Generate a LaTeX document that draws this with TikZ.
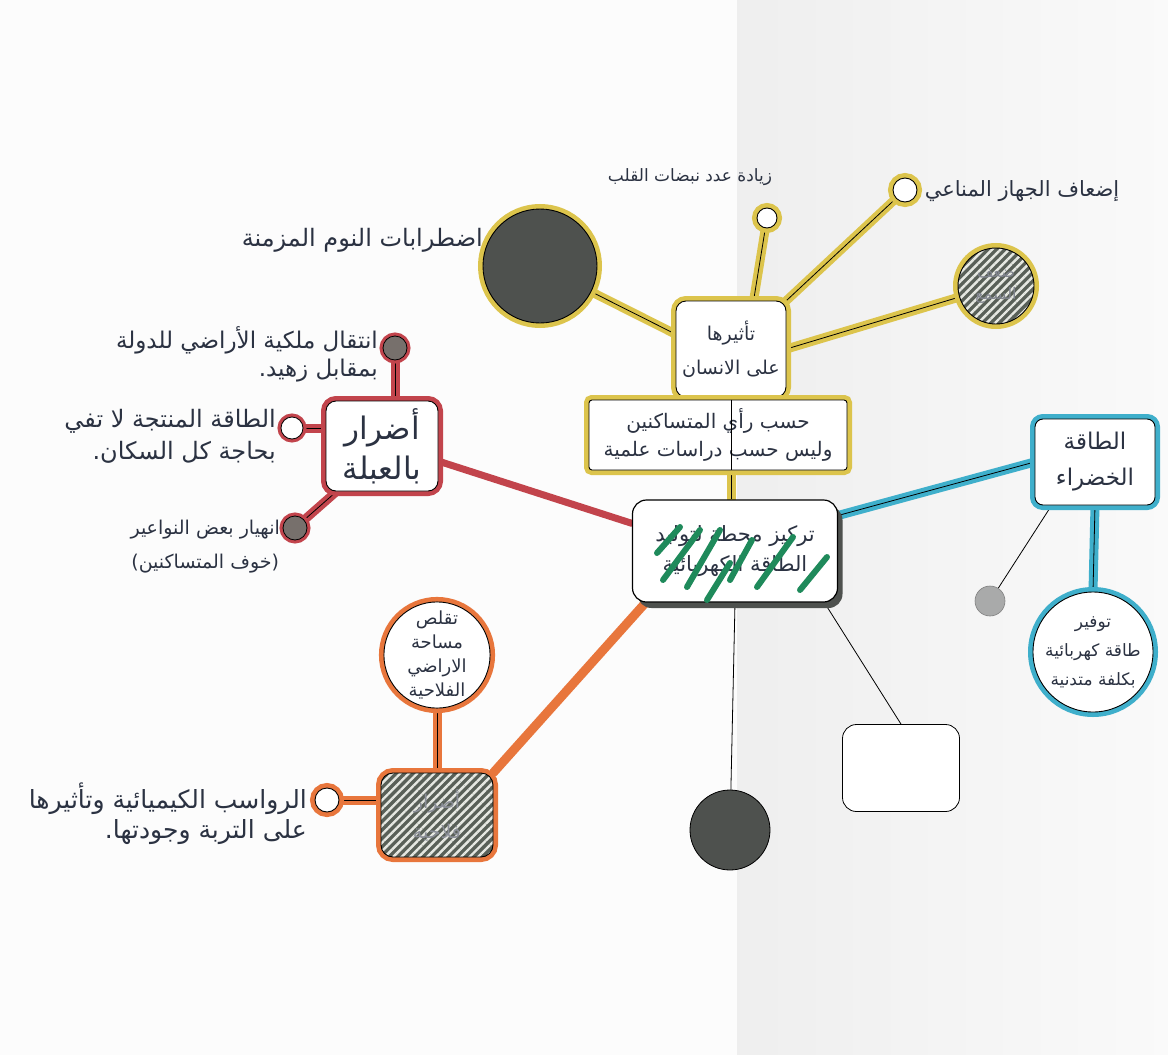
\documentclass[tikz,border=0pt]{standalone}
\usepackage{fontspec}
\newfontfamily\arabicfont[Script=Arabic]{DejaVu Sans}
\newfontfamily\latinfont{DejaVu Sans}
\TeXXeTstate=1
\usetikzlibrary{patterns.meta,shadows}
\pgfdeclarelayer{back}
\pgfdeclarelayer{bg}
\pgfsetlayers{back,bg,main}
\definecolor{ylw}{HTML}{DCC44C}
\definecolor{rd}{HTML}{C2444C}
\definecolor{org}{HTML}{E8763C}
\definecolor{blu}{HTML}{3FAFCB}
\definecolor{dk}{HTML}{4E514E}
\definecolor{ink}{HTML}{2B3242}
\definecolor{grn}{HTML}{1F8A5B}
\definecolor{hg}{HTML}{596058}
\definecolor{hw}{HTML}{E6E8E2}
\definecolor{rg}{HTML}{77706C}
\definecolor{lg}{HTML}{A9AAAA}
\newcommand{\artxt}[1]{\beginR #1\endR}
\begin{document}
\begin{tikzpicture}[x=1pt,y=-1pt,
  band/.style={draw=black, line width=0.9pt, preaction={draw=#1, line width=10pt}},
  thinband/.style={draw=black, line width=0.8pt, preaction={draw=#1, line width=7pt}},
  conn/.style={draw=black, line width=0.8pt, preaction={draw=#1, line width=9pt, line cap=round}},
  plainconn/.style={draw=#1, line width=7pt, line cap=round},
  txt/.style={text=ink, inner sep=2pt},
  fs/.style 2 args={font=\arabicfont\fontsize{#1}{#2}\selectfont},
  hatch/.style={preaction={fill=hg}, preaction={pattern={Lines[angle=45,distance=6pt,line width=2.4pt]}, pattern color=hw}},
  greenstroke/.style={draw=grn, line width=6pt, line cap=round}
]
\useasboundingbox (0,0) rectangle (1168,1055);
\begin{pgfonlayer}{back}
  \fill[white!98!gray] (0,0) rectangle (1168,1055);
  \shade[left color=gray!13, right color=gray!4] (737,0) rectangle (1168,1055);
\end{pgfonlayer}

% ---------- yellow group ----------
\node[circle, minimum size=114pt, band=ylw, fill=dk] (bigc) at (540,266) {};
\node[circle, minimum size=20pt, band=ylw, fill=white] (s1) at (767,218) {};
\node[circle, minimum size=24pt, band=ylw, fill=white] (s2) at (905,190) {};
\node[circle, minimum size=76pt, band=ylw, hatch, txt, fs={16}{22}, text=ink!60, align=center] (hc) at (996,286) {\artxt{ضعف}\\\artxt{السمع}};
\node[rounded corners=10pt, minimum width=110pt, minimum height=96pt, band=ylw, fill=white, txt, fs={19}{34}, align=center] (eff) at (731,349) {\artxt{تأثيرها}\\\artxt{على الانسان}};
\node[rounded corners=3pt, minimum width=258pt, minimum height=70pt, band=ylw, fill=white, txt, fs={20}{28}, align=center] (info) at (718,435) {\artxt{حسب رأي المتساكنين}\\\artxt{وليس حسب دراسات علمية}};

\node[txt, fs={24}{30}, anchor=east] (tsleep) at (485,240) {\artxt{اضطرابات النوم المزمنة}};
\node[txt, fs={17}{22}] (theart) at (690,177) {\artxt{زيادة عدد نبضات القلب}};
\node[txt, fs={21}{26}] (timmune) at (1022,191) {\artxt{إضعاف الجهاز المناعي}};

% ---------- centre ----------
\node[rounded corners=14pt, minimum width=205pt, minimum height=102pt, draw=black, line width=1.2pt, fill=white,
  drop shadow={shadow xshift=5pt, shadow yshift=-6pt, fill=dk, opacity=1}, txt, fs={21}{30}, align=center] (c) at (735,551)
  {\artxt{تركيز محطة لتوليد}\\\artxt{الطاقة الكهربائية}};
\draw[greenstroke] (657,553) -- (680,527);
\draw[greenstroke] (663,580) -- (700,530);
\draw[greenstroke] (687,587) -- (720,530);
\draw[greenstroke] (707,600) -- (730,563);
\draw[greenstroke] (730,580) -- (752,540);
\draw[greenstroke] (757,587) -- (793,537);
\draw[greenstroke] (800,590) -- (827,557);

% ---------- red group ----------
\node[rounded corners=10pt, minimum width=112pt, minimum height=90pt, band=rd, fill=white, txt, fs={31}{40}, align=center] (rbox) at (382,446) {\artxt{أضرار}\\\artxt{بالعبلة}};
\node[circle, minimum size=24pt, thinband=rd, fill=rg] (r1) at (395,348) {};
\node[circle, minimum size=22pt, thinband=rd, fill=white] (r2) at (292,428) {};
\node[circle, minimum size=24pt, thinband=rd, fill=rg] (r3) at (295,528) {};
\node[txt, fs={23}{28}, anchor=east, align=right] (t1) at (380,354) {\artxt{انتقال ملكية الأراضي للدولة}\\.\artxt{بمقابل زهيد}};
\node[txt, fs={24}{32}, anchor=east, align=right] (t2) at (278,436) {\artxt{الطاقة المنتجة لا تفي}\\.\artxt{بحاجة كل السكان}};
\node[txt, fs={19}{34}, anchor=east, align=center] (t3) at (282,547) {\artxt{انهيار بعض النواعير}\\{\latinfont(}\artxt{خوف المتساكنين}{\latinfont)}};

% ---------- orange group ----------
\node[circle, minimum size=104pt, band=org, fill=white, txt, fs={18}{24}, inner sep=0pt, align=center] (ocirc) at (437,655) {\artxt{تقلص}\\\artxt{مساحة}\\\artxt{الاراضي}\\\artxt{الفلاحية}};
\node[rounded corners=12pt, minimum width=112pt, minimum height=84pt, band=org, hatch, txt, fs={19}{30}, text=ink!55, align=center] (obox) at (437,815) {\artxt{أضرار}\\\artxt{فلاحية}};
\node[circle, minimum size=24pt, band=org, fill=white] (oring) at (327,800) {};
\node[txt, fs={25}{30}, anchor=east, align=right] (t4) at (309,814) {\artxt{الرواسب الكيميائية وتأثيرها}\\.\artxt{على التربة وجودتها}};

% ---------- blue group ----------
\node[rounded corners=8pt, minimum width=120pt, minimum height=86pt, band=blu, fill=white, txt, fs={23}{36}, align=center] (gbox) at (1095,462) {\artxt{الطاقة}\\\artxt{الخضراء}};
\node[circle, minimum size=120pt, band=blu, fill=white, txt, fs={17}{29}, inner sep=0pt, align=center] (gcirc) at (1093,652) {\artxt{توفير}\\\artxt{طاقة كهربائية}\\\artxt{بكلفة متدنية}};
\node[circle, minimum size=30pt, fill=lg, draw=gray, line width=0.6pt] (gdot) at (990,601) {};

% ---------- black / white ----------
\node[circle, minimum size=80pt, fill=dk, draw=black, line width=0.8pt] (dkc) at (730,830) {};
\node[rounded corners=14pt, minimum width=117pt, minimum height=87pt, draw=black, line width=0.8pt, fill=white] (wr) at (901,768) {};

% ---------- connectors ----------
\begin{pgfonlayer}{bg}
  \draw[conn=ylw] (eff.165) -- (bigc);
  \draw[conn=ylw] (eff.65) -- (s1);
  \draw[conn=ylw] (eff.north east) -- (s2);
  \draw[conn=ylw] (eff.east) -- (hc);
  \draw[conn=ylw] (eff.south) -- (info.north -| eff.south);
  \draw[conn=ylw] (info.south -| eff.south) -- (c.north -| eff.south);
  \draw[conn=rd] (r1.south) -- (r1.south |- rbox.north);
  \draw[conn=rd] (r2) -- (r2 -| rbox.west);
  \draw[conn=rd] (r3) -- (rbox.-135);
  \draw[plainconn=rd] (rbox.-15) -- (c.165);
  \draw[conn=org] (ocirc) -- (obox.north);
  \draw[conn=org] (oring) -- (oring -| obox.west);
  \draw[plainconn=org, line width=9pt] (obox.north east) -- (c.-150);
  \draw[conn=blu] (c.19) -- (gbox.west);
  \draw[conn=blu] (gbox.south) -- (gcirc.north);
  \draw[black, line width=0.8pt] (gbox.-135) -- (gdot);
  \draw[black, line width=0.8pt] (c.south) -- (dkc);
  \draw[black, line width=0.8pt] (c.-30) -- (wr.north);
\end{pgfonlayer}
\draw[black, line width=0.8pt] (info.north -| eff.south) -- (info.south -| eff.south);
\end{tikzpicture}
\end{document}
